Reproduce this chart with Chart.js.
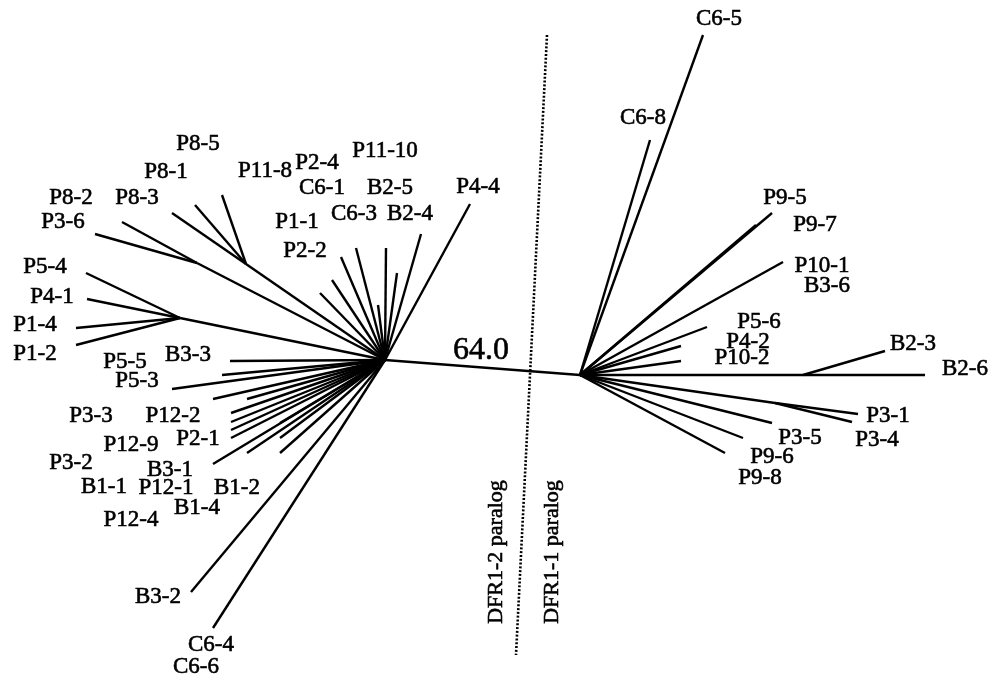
<!DOCTYPE html>
<html>
<head>
<meta charset="utf-8">
<title>DFR paralog tree</title>
<script src="https://cdn.jsdelivr.net/npm/chart.js@4"></script>
<style>
  html, body { margin: 0; padding: 0; background: #fff; }
  #wrap { width: 1003px; height: 680px; }
</style>
</head>
<body>
<div id="wrap"><canvas id="tree" width="1003" height="680"></canvas></div>
<script>
// ==================== TREE DATA ====================
// internal nodes: name, x, y (plot units, y grows downward)
const innerNodes = [
    ['L', 385, 360], ['R', 580, 375],
    ['A', 197, 263], ['B', 246, 264], ['C', 180, 318],
    ['D', 775, 403], ['E', 803, 375]
];
const innerLinks = [['L', 'R'], ['L', 'A'], ['L', 'B'], ['L', 'C'], ['R', 'D'], ['R', 'E']];

// branch tips: parent node, x, y
const tips = [
    ['A', 95, 234], ['A', 122, 222],
    ['B', 172, 213], ['B', 195, 205], ['B', 222, 195],
    ['C', 86, 273], ['C', 87, 299], ['C', 76, 328], ['C', 76, 345],
    ['L', 320, 293], ['L', 332, 280], ['L', 341, 257], ['L', 356, 248], ['L', 378, 305],
    ['L', 386, 248], ['L', 397, 273], ['L', 421, 234], ['L', 470, 204],
    ['L', 230, 361], ['L', 222, 375], ['L', 172, 389], ['L', 213, 399], ['L', 247, 399],
    ['L', 231, 413], ['L', 231, 422], ['L', 231, 430], ['L', 231, 438], ['L', 280, 423],
    ['L', 280, 438], ['L', 247, 453], ['L', 213, 464], ['L', 280, 453],
    ['L', 191, 592], ['L', 213, 628],
    ['R', 703, 35], ['R', 650, 140], ['R', 772, 213], ['R', 756, 225], ['R', 783, 262],
    ['R', 707, 327], ['R', 681, 346], ['R', 681, 361],
    ['R', 772, 423], ['R', 743, 438], ['R', 725, 453],
    ['E', 925, 375], ['E', 885, 351],
    ['D', 858, 414], ['D', 852, 422]
];

// taxon labels: text, x, y
const tipLabels = [
    ['P8-5', 198, 144], ['P8-1', 166, 172], ['P8-2', 71, 198], ['P8-3', 137, 198],
    ['P3-6', 63, 222], ['P5-4', 45, 267], ['P4-1', 52, 297], ['P1-4', 35, 325], ['P1-2', 35, 354],
    ['P11-8', 265, 171], ['P2-4', 317, 163], ['P11-10', 385, 151], ['C6-1', 322, 188],
    ['B2-5', 390, 188], ['P1-1', 297, 222], ['C6-3', 354, 214], ['B2-4', 410, 214],
    ['P2-2', 305, 251], ['P4-4', 478, 187],
    ['P5-5', 125, 362], ['B3-3', 188, 355], ['P5-3', 137, 381], ['P3-3', 91, 416],
    ['P12-2', 173, 416], ['P12-9', 131, 445], ['P2-1', 198, 439], ['P3-2', 71, 463],
    ['B3-1', 170, 470], ['B1-1', 104, 487], ['P12-1', 166, 488], ['B1-2', 237, 488],
    ['B1-4', 197, 508], ['P12-4', 131, 520], ['B3-2', 158, 597], ['C6-4', 211, 645],
    ['C6-6', 196, 667],
    ['C6-5', 719, 19], ['C6-8', 643, 118], ['P9-5', 785, 198], ['P9-7', 815, 225],
    ['P10-1', 822, 266], ['B3-6', 827, 286], ['P5-6', 759, 322], ['P4-2', 748, 342],
    ['P10-2', 742, 358], ['B2-3', 913, 344], ['B2-6', 965, 369], ['P3-1', 888, 416],
    ['P3-4', 877, 440], ['P3-5', 800, 438], ['P9-6', 772, 457], ['P9-8', 760, 478]
];

// paralog split line and notes
const splitLine = [[547, 35], [516, 655]];
const branchNote = ['64.0', 481, 351];
const groupNotes = [['DFR1-2 paralog', 496, 552], ['DFR1-1 paralog', 552, 552]];

// ==================== BUILD DATASETS ====================
const nodeAt = {};
innerNodes.forEach(n => { nodeAt[n[0]] = { x: n[1], y: n[2] }; });

const edgeStyle = {
    showLine: true,
    borderColor: '#000',
    borderWidth: 2.4,
    pointRadius: 0,
    fill: false
};

const datasets = [];
innerLinks.forEach(([a, b]) => {
    datasets.push({ ...edgeStyle, data: [nodeAt[a], nodeAt[b]] });
});
tips.forEach(([p, x, y]) => {
    datasets.push({ ...edgeStyle, data: [nodeAt[p], { x: x, y: y }] });
});
datasets.push({
    ...edgeStyle,
    borderWidth: 2.6,
    borderDash: [2, 1.8],
    data: splitLine.map(([x, y]) => ({ x: x, y: y }))
});

// ==================== LABEL PLUGIN ====================
function drawText(ctx, t, x, y) {
    // thin stroke thickens the serif glyphs a little, like the scanned figure
    ctx.strokeText(t, x, y);
    ctx.fillText(t, x, y);
}

const labelPlugin = {
    id: 'treeLabels',
    afterDatasetsDraw(chart) {
        const ctx = chart.ctx;
        const sx = chart.scales.x, sy = chart.scales.y;
        ctx.save();
        ctx.fillStyle = '#000';
        ctx.strokeStyle = '#000';
        ctx.lineWidth = 0.6;
        ctx.textAlign = 'center';
        ctx.textBaseline = 'middle';

        ctx.font = '23px "Liberation Serif"';
        tipLabels.forEach(([t, x, y]) => {
            drawText(ctx, t, sx.getPixelForValue(x), sy.getPixelForValue(y));
        });

        ctx.font = '32px "Liberation Serif"';
        drawText(ctx, branchNote[0], sx.getPixelForValue(branchNote[1]), sy.getPixelForValue(branchNote[2]));

        ctx.font = '22px "Liberation Serif"';
        groupNotes.forEach(([t, x, y]) => {
            ctx.save();
            ctx.translate(sx.getPixelForValue(x), sy.getPixelForValue(y));
            ctx.rotate(-Math.PI / 2);
            drawText(ctx, t, 0, 0);
            ctx.restore();
        });
        ctx.restore();
    }
};

new Chart(document.getElementById('tree'), {
    type: 'scatter',
    data: { datasets: datasets },
    options: {
        responsive: false,
        animation: false,
        devicePixelRatio: 1,
        layout: { padding: 0 },
        plugins: { legend: { display: false }, tooltip: { enabled: false } },
        scales: {
            x: { type: 'linear', min: 0, max: 1003, display: false },
            y: { type: 'linear', min: 0, max: 680, reverse: true, display: false }
        }
    },
    plugins: [labelPlugin]
});
</script>
</body>
</html>
